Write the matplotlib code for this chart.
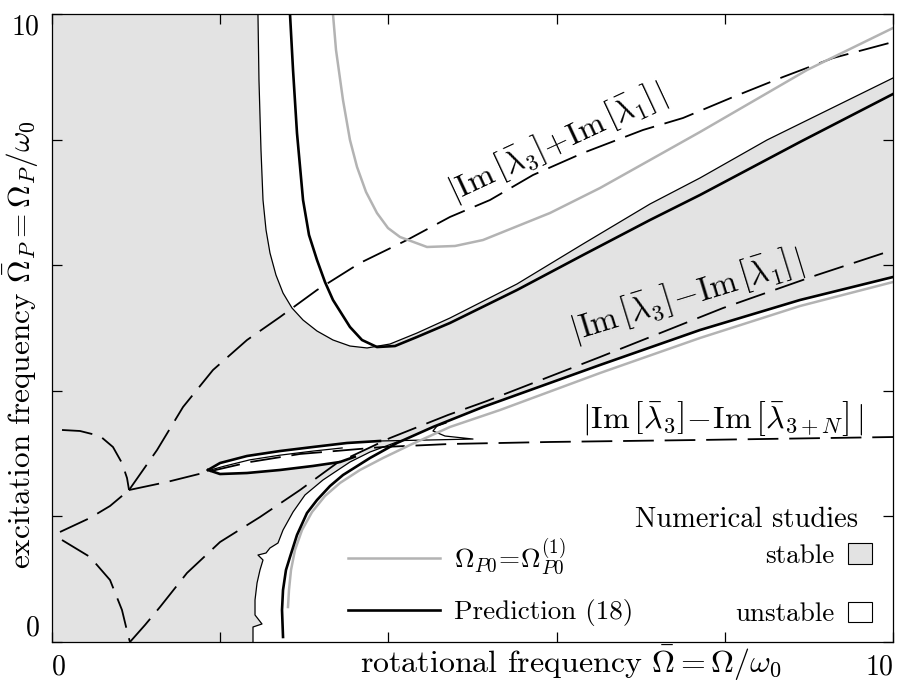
import numpy as np
import matplotlib
matplotlib.use('Agg')
import matplotlib.pyplot as plt
from matplotlib.lines import Line2D
from matplotlib.patches import Patch

plt.rcParams['font.family'] = 'serif'
plt.rcParams['font.serif'] = ['cmr10']
plt.rcParams['mathtext.fontset'] = 'cm'
plt.rcParams['axes.formatter.use_mathtext'] = True
plt.rcParams['font.size'] = 19.5

# ---- numerical stability boundary (thin black) ----
thin_up_x = [2.449, 2.461, 2.485, 2.509, 2.545, 2.592, 2.663, 2.747, 2.854, 2.985, 3.151,
             3.341, 3.543, 3.746, 4.019, 4.340, 4.732, 5.529, 6.314, 7.111, 7.705, 8.502, 10.0]
thin_up_y = [10.0, 8.949, 7.834, 7.038, 6.561, 6.194, 5.844, 5.557, 5.318, 5.127, 4.952,
             4.809, 4.713, 4.682, 4.745, 4.920, 5.159, 5.701, 6.338, 6.975, 7.389, 7.994, 8.981]

thin_low_x = [2.390, 2.390, 2.497, 2.414, 2.414, 2.438, 2.473, 2.509, 2.449, 2.545, 2.592,
              2.687, 2.747, 2.866, 3.008, 3.222, 3.543, 3.781, 4.102]
thin_low_y = [0.0, 0.239, 0.287, 0.430, 0.669, 0.939, 1.146, 1.306, 1.385, 1.417, 1.497,
              1.576, 1.783, 2.070, 2.341, 2.580, 2.866, 3.025, 3.185]

# ---- prediction (18), thick black ----
pred_up_x = [2.830, 2.866, 2.913, 2.985, 3.056, 3.151, 3.246, 3.341, 3.543, 3.686, 3.864,
             4.078, 4.340, 4.732, 5.529, 6.314, 7.111, 7.705, 8.894, 10.0]
pred_up_y = [10.0, 9.108, 8.105, 7.038, 6.481, 6.083, 5.732, 5.446, 5.016, 4.809, 4.697,
             4.713, 4.857, 5.080, 5.605, 6.162, 6.720, 7.118, 7.962, 8.726]

pred_low_x = [2.747, 2.735, 2.747, 2.782, 2.830, 2.913, 3.032, 3.151, 3.306, 3.460, 3.781,
              4.102, 4.530, 5.125, 6.516, 7.705, 8.894, 10.0]
pred_low_y = [0.080, 0.510, 0.828, 1.146, 1.354, 1.704, 2.054, 2.261, 2.484, 2.659, 2.930,
              3.169, 3.424, 3.742, 4.411, 4.968, 5.446, 5.812]

# ---- Omega_P0 = Omega_P0^(1), gray ----
om_up_x = [3.341, 3.377, 3.460, 3.543, 3.627, 3.734, 3.864, 3.995, 4.138, 4.459, 4.792,
           5.125, 5.921, 6.516, 7.111, 7.705, 8.977, 10.0]
om_up_y = [10.0, 9.427, 8.631, 7.994, 7.564, 7.166, 6.831, 6.592, 6.449, 6.290, 6.306,
           6.401, 6.831, 7.229, 7.675, 8.121, 9.108, 9.777]

om_low_x = [2.806, 2.818, 2.842, 2.889, 2.973, 3.092, 3.246, 3.424, 3.662, 3.936, 4.257,
            4.732, 5.327, 6.516, 7.705, 8.894, 10.0]
om_low_y = [0.557, 0.828, 1.146, 1.465, 1.783, 2.070, 2.325, 2.532, 2.739, 2.930, 3.137,
            3.424, 3.694, 4.283, 4.841, 5.350, 5.732]

# ---- combination frequencies (dashed) ----
sum_x = [0.916, 1.249, 1.558, 1.914, 2.319, 2.711, 3.151, 3.662, 4.221, 4.732, 5.208,
         5.719, 6.314, 7.027, 7.503, 8.098, 8.692, 9.287, 10.0]
sum_y = [2.420, 3.057, 3.742, 4.331, 4.809, 5.175, 5.605, 6.035, 6.401, 6.768, 7.038,
         7.436, 7.787, 8.153, 8.344, 8.678, 8.997, 9.299, 9.554]

diff_x = [0.927, 1.106, 1.284, 1.605, 1.998, 2.473, 2.949, 3.389, 4.019, 4.709, 5.172,
          6.516, 7.979, 9.096, 10.0]
diff_y = [0.0, 0.271, 0.557, 1.099, 1.592, 1.990, 2.420, 2.850, 3.248, 3.615, 3.838,
          4.538, 5.318, 5.844, 6.242]

nline_x = [0.916, 1.367, 1.843, 2.354, 2.949, 3.936, 4.732, 5.921, 7.705, 10.0]
nline_y = [2.420, 2.548, 2.707, 2.866, 2.994, 3.105, 3.153, 3.185, 3.217, 3.264]

left_a_x = [0.119, 0.333, 0.571, 0.725, 0.832, 0.892, 0.916]
left_a_y = [3.376, 3.360, 3.280, 3.105, 2.850, 2.611, 2.420]
left_b_x = [0.095, 0.452, 0.690, 0.916]
left_b_y = [1.752, 1.975, 2.166, 2.420]
left_c_x = [0.119, 0.452, 0.690, 0.832, 0.904, 0.927]
left_c_y = [1.624, 1.354, 0.987, 0.510, 0.111, 0.0]

# ---- thin loop near the crossing ----
loop_up_x = [1.855, 1.998, 2.319, 2.711, 3.103, 3.508, 3.900]
loop_up_y = [2.739, 2.850, 2.962, 3.041, 3.105, 3.169, 3.201]
loop_low_x = [1.855, 1.998, 2.319, 2.711, 3.103, 3.424, 3.600]
loop_low_y = [2.739, 2.675, 2.691, 2.739, 2.803, 2.866, 2.950]
loop_in_x = [1.900, 2.050, 2.350, 2.711, 3.103, 3.450]
loop_in_y = [2.745, 2.800, 2.900, 2.975, 3.040, 3.090]
hook_x = [3.900, 4.495, 5.006, 4.673, 4.530, 4.578, 4.685]
hook_y = [3.201, 3.217, 3.232, 3.280, 3.360, 3.439, 3.487]

fill_gray = '#e3e3e3'
line_gray = '#b3b3b3'
dash = (0, (17, 6))

fig = plt.figure(figsize=(9.09, 6.82), dpi=100)
ax = fig.add_axes([52/909, 40/682, 841/909, 628/682])
ax.set_xlim(0, 10)
ax.set_ylim(0, 10)
ax.set_facecolor(fill_gray)

# unstable regions in white
ax.fill(np.r_[thin_up_x, 10], np.r_[thin_up_y, 10], color='white', lw=0, zorder=1)
px = np.array(pred_low_x)
py = np.array(pred_low_y)
ax.fill(np.r_[thin_low_x, px[px > 4.2], 10], np.r_[thin_low_y, py[px > 4.2], 0],
        color='white', lw=0, zorder=1)
ax.fill(np.r_[loop_up_x, loop_low_x[::-1]], np.r_[loop_up_y, loop_low_y[::-1]],
        color='white', lw=0, zorder=1)

# thin boundaries
ax.plot(thin_up_x, thin_up_y, color='black', lw=0.9, zorder=3)
ax.plot(thin_low_x, thin_low_y, color='black', lw=0.9, zorder=3)
ax.plot(loop_in_x, loop_in_y, color='black', lw=0.9, zorder=3)
ax.plot(hook_x, hook_y, color='black', lw=0.9, zorder=3)

# dashed combination lines
for xs, ys in [(sum_x, sum_y), (diff_x, diff_y), (nline_x, nline_y),
               (left_a_x, left_a_y), (left_b_x, left_b_y), (left_c_x, left_c_y)]:
    ax.plot(xs, ys, color='black', lw=1.3, linestyle=dash, zorder=3)

# gray analytic curves
ax.plot(om_up_x, om_up_y, color=line_gray, lw=1.8, zorder=4)
ax.plot(om_low_x, om_low_y, color=line_gray, lw=1.8, zorder=4)

# prediction
ax.plot(pred_up_x, pred_up_y, color='black', lw=1.9, zorder=5)
ax.plot(pred_low_x, pred_low_y, color='black', lw=1.9, zorder=5)
ax.plot(loop_up_x, loop_up_y, color='black', lw=1.9, zorder=5)
ax.plot(loop_low_x, loop_low_y, color='black', lw=1.9, zorder=5)

# curve labels
ax.text(6.005, 7.96, r'$|\mathrm{Im}\,\left[\bar{\lambda}_3\right]\!+\!\mathrm{Im}\,\left[\bar{\lambda}_1\right]\,|$',
        rotation=25, ha='center', va='center', fontsize=23, zorder=6)
ax.text(7.55, 5.52, r'$|\mathrm{Im}\,\left[\bar{\lambda}_3\right]\!-\!\mathrm{Im}\,\left[\bar{\lambda}_1\right]\,|$',
        rotation=17, ha='center', va='center', fontsize=23.5, zorder=6)
ax.text(7.97, 3.55, r'$|\mathrm{Im}\,\left[\bar{\lambda}_3\right]\!-\!\mathrm{Im}\,\left[\bar{\lambda}_{3+N}\right]\,|$',
        ha='center', va='center', fontsize=23, zorder=6)

# axes styling
ax.set_xticks([0, 2, 4, 6, 8, 10])
ax.set_xticklabels(['0', '', '', '', '', '10'])
ax.set_yticks([0, 2, 4, 6, 8, 10])
ax.set_yticklabels(['0', '', '', '', '', '10'])
ax.tick_params(direction='in', length=7, width=0.9, top=True, right=True, pad=9,
               labelsize=20)
xl = ax.get_xticklabels()
xl[0].set_ha('left')
xl[-1].set_ha('right')
yl = ax.get_yticklabels()
yl[0].set_va('bottom')
yl[-1].set_va('top')
for s in ax.spines.values():
    s.set_linewidth(0.9)
    s.set_zorder(10)

ax.set_xlabel(r'rotational frequency $\bar{\Omega} = \Omega/\omega_0$', va='baseline',
              fontsize=23)
ax.xaxis.set_label_coords(0.617, -0.049)
ax.set_ylabel(r'excitation frequency $\bar{\Omega}_P = \Omega_P/\omega_0$', va='center',
              ha='center', rotation_mode='default', fontsize=22.5)
ax.yaxis.set_label_coords(-0.038, 0.473)

# legends
h1 = [Line2D([], [], color=line_gray, lw=1.8), Line2D([], [], color='black', lw=1.9)]
leg1 = ax.legend(h1, [r'$\Omega_{P0}\!=\!\Omega_{P0}^{(1)}$', 'Prediction (18)'],
                 loc='lower left', bbox_to_anchor=(0.352, 0.025), frameon=False,
                 handlelength=3.4, handletextpad=0.5, labelspacing=0.8,
                 borderpad=0, borderaxespad=0)
ax.add_artist(leg1)
h2 = [Patch(facecolor=fill_gray, edgecolor='black', lw=0.8),
      Patch(facecolor='white', edgecolor='black', lw=0.8)]
ax.legend(h2, ['stable', 'unstable'], loc='lower right', bbox_to_anchor=(0.975, 0.025),
          frameon=False, markerfirst=False, handlelength=0.9, handleheight=0.8,
          handletextpad=0.5, labelspacing=1.25, borderpad=0, borderaxespad=0)
ax.text(0.958, 0.194, 'Numerical studies', transform=ax.transAxes, ha='right',
        va='center', fontsize=20.5)

fig.savefig('out.png', dpi=100)
